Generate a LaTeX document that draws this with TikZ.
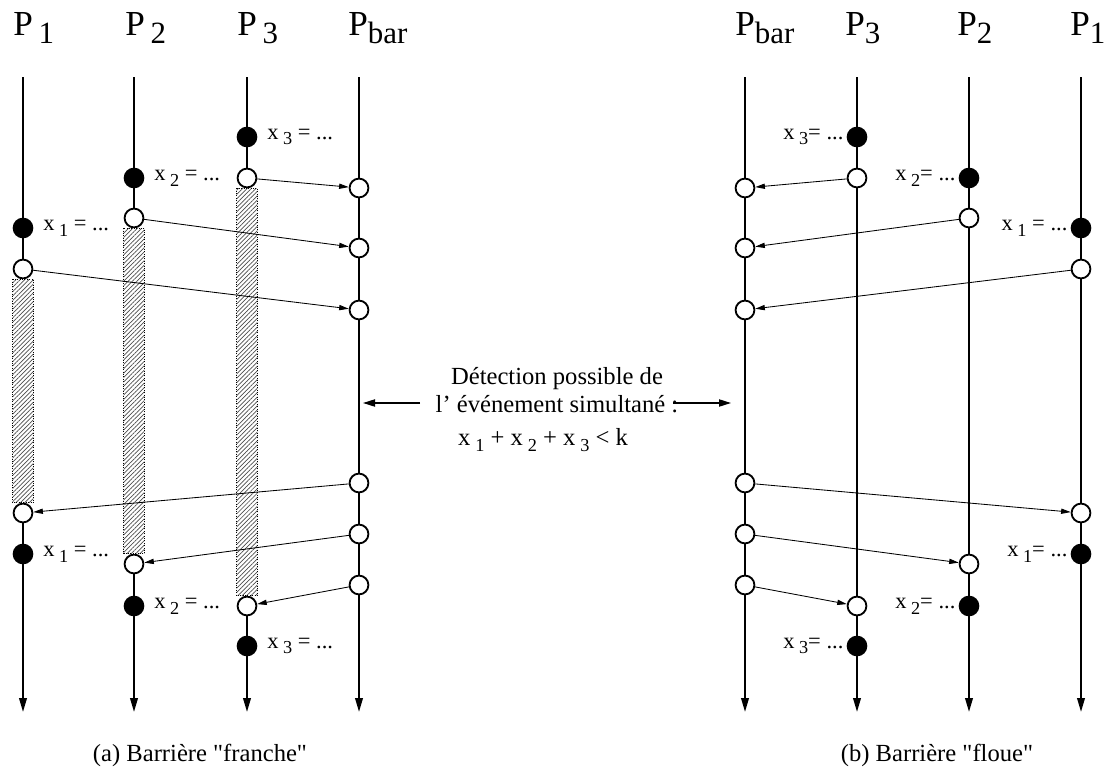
\documentclass[tikz,border=0pt]{standalone}
\usepackage{fontspec}
\setmainfont{Liberation Serif}
\usepackage{tikz}
\usetikzlibrary{arrows.meta, positioning, patterns.meta}
\newcommand{\lo}[1]{\hspace{0.2em}\raisebox{-0.55ex}{\fontsize{13}{13}\selectfont #1}}
\newcommand{\tsub}[1]{\raisebox{-0.55ex}{\fontsize{22}{22}\selectfont #1}}

\begin{document}
\begin{tikzpicture}[x=0.25mm, y=-0.25mm,
          proc/.style={line width=1.4pt, -{Triangle[length=3.5mm, width=1.9mm]}},
          evt/.style={circle, draw, line width=1.3pt, fill=white,
                      inner sep=0pt, minimum size=4.7mm},
          fixv/.style={evt, fill=black},
          msg/.style={line width=0.6pt, -{Triangle[length=2.4mm, width=1.3mm]}},
          darr/.style={line width=1pt, -{Triangle[length=3mm, width=1.8mm]}},
          hatch/.style={fill=white,
                        postaction={pattern={Lines[angle=45, distance=2.2pt, line width=0.5pt]},
                                    pattern color=black!70},
                        postaction={draw, densely dotted, line width=0.7pt}},
          lab/.style={font=\fontsize{16}{19}\selectfont, inner sep=1pt},
          ttl/.style={font=\fontsize{25}{28}\selectfont, inner sep=0pt},
          captxt/.style={font=\fontsize{17.5}{20}\selectfont}
        ]
        \useasboundingbox (0,0) rectangle (1111,768);

        % process lines
        \foreach \px/\pn in {23/a1, 134/a2, 247/a3, 359/a0,
                             745/b0, 857/b3, 969/b2, 1081/b1} {
          \coordinate (top\pn) at (\px,77);
          \coordinate (end\pn) at (\px,712);
          \draw[proc] (top\pn) -- (end\pn);
        }

        % titles
        \node[ttl, anchor=base west] (ta1) at (13,35)  {P\,\tsub{1}};
        \node[ttl, anchor=base west] (ta2) at (125,35) {P\,\tsub{2}};
        \node[ttl, anchor=base west] (ta3) at (237,35) {P\,\tsub{3}};
        \node[ttl, anchor=base west] (ta0) at (348,35) {P\tsub{bar}};
        \node[ttl, anchor=base west] (tb0) at (735,35) {P\tsub{bar}};
        \node[ttl, anchor=base west] (tb3) at (845,35) {P\tsub{3}};
        \node[ttl, anchor=base west] (tb2) at (957,35) {P\tsub{2}};
        \node[ttl, anchor=base west] (tb1) at (1070,35) {P\tsub{1}};

        % (a) barriere franche
        \node[fixv] (xa3) at (247,137) {};
        \node[fixv] (xa2) at (134,178) {};
        \node[evt]  (sa3) at (247,178) {};
        \node[evt]  (ra3) at (359,188) {};
        \node[fixv] (xa1) at (23,228)  {};
        \node[evt]  (sa2) at (134,218) {};
        \node[evt]  (ra2) at (359,248) {};
        \node[evt]  (sa1) at (23,269)  {};
        \node[evt]  (ra1) at (359,310) {};
        \node[evt]  (qa1) at (359,483) {};
        \node[evt]  (ka1) at (23,513)  {};
        \node[fixv] (ya1) at (23,554)  {};
        \node[evt]  (qa2) at (359,534) {};
        \node[evt]  (ka2) at (134,564) {};
        \node[evt]  (qa3) at (359,585) {};
        \node[evt]  (ka3) at (247,606) {};
        \node[fixv] (ya2) at (134,606) {};
        \node[fixv] (ya3) at (247,646) {};

        \path[hatch] ([xshift=-2.6mm]sa1.south) rectangle ([xshift=2.6mm]ka1.north);
        \path[hatch] ([xshift=-2.6mm]sa2.south) rectangle ([xshift=2.6mm]ka2.north);
        \path[hatch] ([xshift=-2.6mm]sa3.south) rectangle ([xshift=2.6mm]ka3.north);

        \draw[msg] (sa3) -- (ra3); \draw[msg] (sa2) -- (ra2);
        \draw[msg] (sa1) -- (ra1);
        \draw[msg] (qa1) -- (ka1); \draw[msg] (qa2) -- (ka2);
        \draw[msg] (qa3) -- (ka3);

        \node[lab, right=2.1mm of xa1] (lxa1) {x\lo{1} = ...};
        \node[lab, right=2.1mm of xa2] (lxa2) {x\lo{2} = ...};
        \node[lab, right=2.1mm of xa3] (lxa3) {x\lo{3} = ...};
        \node[lab, right=2.1mm of ya1] (lya1) {x\lo{1} = ...};
        \node[lab, right=2.1mm of ya2] (lya2) {x\lo{2} = ...};
        \node[lab, right=2.1mm of ya3] (lya3) {x\lo{3} = ...};

        % (b) barriere floue
        \node[fixv] (xb3) at (857,137)  {};
        \node[fixv] (xb2) at (969,178)  {};
        \node[evt]  (sb3) at (857,178)  {};
        \node[evt]  (rb3) at (745,188)  {};
        \node[fixv] (xb1) at (1081,228) {};
        \node[evt]  (sb2) at (969,218)  {};
        \node[evt]  (rb2) at (745,248)  {};
        \node[evt]  (sb1) at (1081,269) {};
        \node[evt]  (rb1) at (745,310)  {};
        \node[evt]  (qb1) at (745,483)  {};
        \node[evt]  (kb1) at (1081,513) {};
        \node[fixv] (yb1) at (1081,554) {};
        \node[evt]  (qb2) at (745,534)  {};
        \node[evt]  (kb2) at (969,564)  {};
        \node[evt]  (qb3) at (745,585)  {};
        \node[evt]  (kb3) at (857,606)  {};
        \node[fixv] (yb2) at (969,606)  {};
        \node[fixv] (yb3) at (857,646)  {};

        \draw[msg] (sb3) -- (rb3); \draw[msg] (sb2) -- (rb2);
        \draw[msg] (sb1) -- (rb1);
        \draw[msg] (qb1) -- (kb1); \draw[msg] (qb2) -- (kb2);
        \draw[msg] (qb3) -- (kb3);

        \node[lab, left=0.4mm of xb1] (lxb1) {x\lo{1} = ...};
        \node[lab, left=0.4mm of xb2] (lxb2) {x\lo{2}= ...};
        \node[lab, left=0.4mm of xb3] (lxb3) {x\lo{3}= ...};
        \node[lab, left=0.4mm of yb1] (lyb1) {x\lo{1}= ...};
        \node[lab, left=0.4mm of yb2] (lyb2) {x\lo{2}= ...};
        \node[lab, left=0.4mm of yb3] (lyb3) {x\lo{3}= ...};

        % detection
        \node[captxt, align=center, inner sep=0pt] (det) at (557,390)
              {Détection possible de\\l’ événement simultané :};
        \node[captxt] (sum) at (543,440) {x\lo{1} + x\lo{2} + x\lo{3} < k};
        \coordinate (dl0) at (420,403); \coordinate (dl1) at (363,403);
        \coordinate (dr0) at (673,403); \coordinate (dr1) at (731,403);
        \draw[darr] (dl0) -- (dl1); \draw[darr] (dr0) -- (dr1);

        % captions
        \node[captxt] (capa) at (200,755) {(a) Barrière \textquotedbl franche\textquotedbl};
        \node[captxt] (capb) at (937,755) {(b) Barrière \textquotedbl floue\textquotedbl};
      \end{tikzpicture}
\end{document}
